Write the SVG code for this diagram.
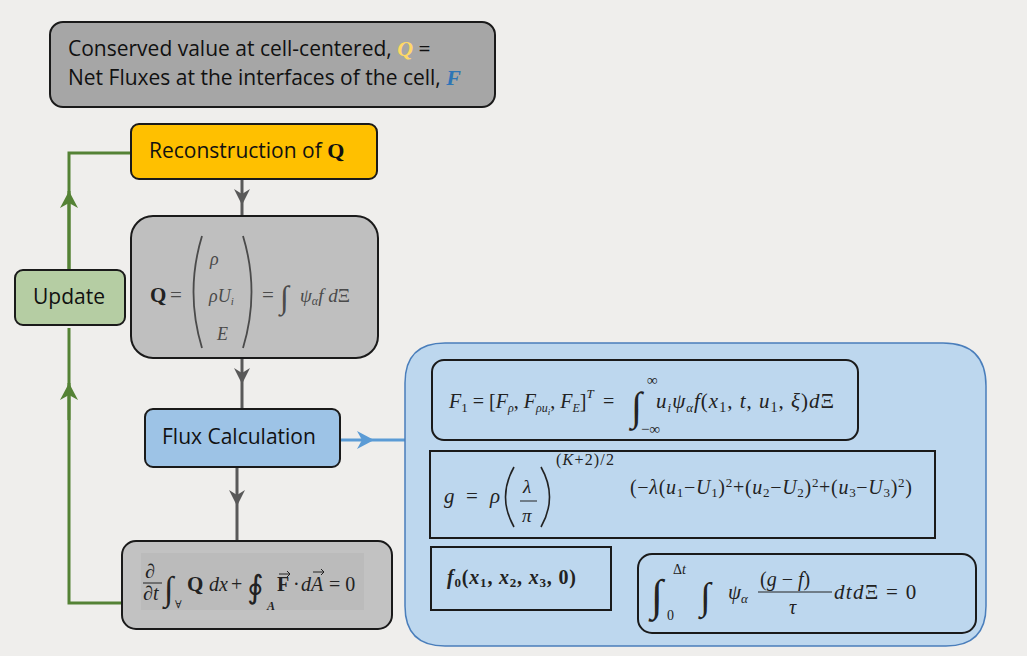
<svg xmlns="http://www.w3.org/2000/svg" width="1027" height="656" viewBox="0 0 1027 656">
<defs>
<style>
.box{stroke:#1a1a1a;stroke-width:2}
.lbl{font-family:"Open Sans","Noto Sans","DejaVu Sans",sans-serif;font-size:21px;fill:#111}
.m{font-family:"Liberation Serif","DejaVu Serif",serif;font-style:italic;fill:#222}
.mr{font-family:"Liberation Serif","DejaVu Serif",serif;fill:#222}
.gq{fill:#4a4a4a}
.gray{stroke:#595959;stroke-width:3;fill:none}
.green{stroke:#548235;stroke-width:3;fill:none}
.blue{stroke:#5B9BD5;stroke-width:3;fill:none}
</style>
<marker id="ag" markerUnits="userSpaceOnUse" markerWidth="20" markerHeight="20" refX="0" refY="0" viewBox="-18 -10 20 20" orient="auto">
<path d="M0,0 L-16,-8 L-11,0 L-16,8 Z" fill="#595959"/>
</marker>
<marker id="agr" markerUnits="userSpaceOnUse" markerWidth="22" markerHeight="22" refX="0" refY="0" viewBox="-20 -11 22 22" orient="auto">
<path d="M0,0 L-17,-9 L-12,0 L-17,9 Z" fill="#548235"/>
</marker>
<marker id="ab" markerUnits="userSpaceOnUse" markerWidth="22" markerHeight="22" refX="0" refY="0" viewBox="-20 -11 22 22" orient="auto">
<path d="M0,0 L-17,-9 L-12,0 L-17,9 Z" fill="#5B9BD5"/>
</marker>
</defs>
<rect x="0" y="0" width="1027" height="656" fill="#EFEEEC"/>

<g id="connectors">
<path class="gray" d="M242,179 L242,205 L242,216" marker-mid="url(#ag)"/>
<path class="gray" d="M242,358 L242,384 L242,409" marker-mid="url(#ag)"/>
<path class="gray" d="M237,467 L237,506 L237,541" marker-mid="url(#ag)"/>
<path class="blue" d="M340,440 L374,440 L405,440" marker-mid="url(#ab)"/>
<path class="green" d="M131,153 L69,153 L69,270"/>
<path class="green" d="M69,270 L69,191" marker-end="url(#agr)"/>
<path class="green" d="M122,603 L69,603 L69,328"/>
<path class="green" d="M69,420 L69,383" marker-end="url(#agr)"/>
</g>

<g id="node-conserved">
<rect class="box" x="50" y="22" width="445" height="85" rx="13" fill="#A6A6A6"/>
<text class="lbl" x="68" y="56">Conserved value at cell-centered, <tspan style="font-family:'Liberation Serif',serif;font-style:italic;font-weight:bold;fill:#FFD966;font-size:22px">Q</tspan> =</text>
<text class="lbl" x="68" y="85">Net Fluxes at the interfaces of the cell, <tspan style="font-family:'Liberation Serif',serif;font-style:italic;font-weight:bold;fill:#2E75B6;font-size:22px">F</tspan></text>
</g>

<g id="node-reconstruction">
<rect class="box" x="131" y="124" width="246" height="55" rx="8" fill="#FFC000"/>
<text class="lbl" x="149" y="158">Reconstruction of <tspan style="font-family:'Liberation Serif',serif;font-weight:bold;fill:#111;font-size:22px">Q</tspan></text>
</g>

<g id="node-q">
<rect class="box" x="131" y="216" width="247" height="142" rx="22" fill="#BFBFBF"/>
<text class="mr" x="150" y="302" font-size="21" font-weight="bold">Q</text>
<text class="mr gq" x="170" y="302" font-size="21">=</text>
<path d="M202,236 Q185,292 202,348" fill="none" stroke="#4a4a4a" stroke-width="1.8"/>
<path d="M243,236 Q260,292 243,348" fill="none" stroke="#4a4a4a" stroke-width="1.8"/>
<text class="m gq" x="210" y="265" font-size="18">ρ</text>
<text class="m gq" x="209" y="302" font-size="18">ρU<tspan font-size="11" dy="3">i</tspan></text>
<text class="m gq" x="217" y="340" font-size="18">E</text>
<text class="mr gq" x="262" y="302" font-size="21">=</text>
<text class="mr gq" x="280" y="308" font-size="32">∫</text>
<text class="m gq" x="300" y="302" font-size="19">ψ<tspan font-size="12" dy="3">α</tspan><tspan dy="-3">f d</tspan><tspan font-style="normal">Ξ</tspan></text>
</g>

<g id="node-flux">
<rect class="box" x="145" y="409" width="195" height="58" rx="8" fill="#9DC3E6"/>
<text class="lbl" x="162" y="444">Flux Calculation</text>
</g>

<g id="node-update">
<rect class="box" x="15" y="270" width="110" height="55" rx="8" fill="#B5CDA3"/>
<text class="lbl" x="69" y="304" text-anchor="middle">Update</text>
</g>

<g id="node-conservation">
<rect class="box" x="122" y="541" width="270" height="88" rx="14" fill="#C2C2C2"/>
<rect x="141" y="553" width="223" height="57" fill="#BBBBBB"/>
<text class="mr" x="145" y="578" font-size="20">∂</text>
<line x1="143" y1="583" x2="162" y2="583" stroke="#222" stroke-width="1"/>
<text class="mr" x="143" y="600" font-size="20">∂<tspan font-style="italic">t</tspan></text>
<text class="mr" x="164" y="600" font-size="34">∫</text>
<text class="mr" x="175" y="608" font-size="11">∀</text>
<text class="mr" x="187" y="591" font-size="21" font-weight="bold">Q</text>
<text class="m" x="209" y="591" font-size="20">dx</text>
<text class="mr" x="231" y="591" font-size="20">+</text>
<text class="mr" x="247" y="598" font-size="32">∮</text>
<text class="m" x="267" y="610" font-size="12" font-weight="bold">A</text>
<text class="mr" x="277" y="591" font-size="20" font-weight="bold">F</text>
<path d="M279,574 L290,574 M287,571 L290,574 L287,577" stroke="#222" stroke-width="1" fill="none"/>
<text class="mr" x="293" y="591" font-size="20">·</text>
<text class="m" x="301" y="591" font-size="20">dA</text>
<path d="M313,572 L324,572 M321,569 L324,572 L321,575" stroke="#222" stroke-width="1" fill="none"/>
<text class="mr" x="329" y="591" font-size="20">= 0</text>
</g>

<g id="node-panel">
<path d="M445,343 L943,343 Q986,343 986,386 L986,606 Q986,646 946,646 L445,646 Q405,646 405,606 L405,383 Q405,343 445,343 Z" fill="#BDD7EE" stroke="#4A7EBB" stroke-width="1.5"/>
</g>

<g id="node-f1">
<rect class="box" x="432" y="360" width="426" height="80" rx="12" fill="#BDD7EE"/>
<text class="m" x="449" y="408" font-size="20">F<tspan font-style="normal" font-size="13" dy="4">1</tspan><tspan dy="-4" font-style="normal"> = [</tspan>F<tspan font-size="12" dy="4">ρ</tspan><tspan dy="-4" font-style="normal">, </tspan>F<tspan font-size="12" dy="4">ρu</tspan><tspan font-size="9" dy="3">i</tspan><tspan dy="-7" font-style="normal">, </tspan>F<tspan font-size="12" dy="4">E</tspan><tspan dy="-4" font-style="normal">]</tspan><tspan font-size="13" dy="-10">T</tspan></text>
<text class="mr" x="603" y="408" font-size="20">=</text>
<text class="mr" x="631" y="420" font-size="40">∫</text>
<text class="mr" x="647" y="385" font-size="15">∞</text>
<text class="mr" x="641" y="434" font-size="15">−∞</text>
<text class="m" x="656" y="408" font-size="21" letter-spacing="1">u<tspan font-size="13" dy="4">i</tspan><tspan dy="-4">ψ</tspan><tspan font-size="13" dy="4">α</tspan><tspan dy="-4">f</tspan><tspan font-style="normal">(</tspan>x<tspan font-style="normal" font-size="14" dy="4">1</tspan><tspan dy="-4" font-style="normal">, </tspan>t<tspan font-style="normal">, </tspan>u<tspan font-style="normal" font-size="14" dy="4">1</tspan><tspan dy="-4" font-style="normal">, </tspan>ξ<tspan font-style="normal">)</tspan>d<tspan font-style="normal">Ξ</tspan></text>
</g>

<g id="node-g">
<rect class="box" x="430" y="451" width="505" height="87" fill="#BDD7EE"/>
<text class="m" x="444" y="503" font-size="21">g</text>
<text class="mr" x="466" y="503" font-size="21">=</text>
<text class="m" x="490" y="503" font-size="21">ρ</text>
<path d="M514,467 Q497,497 514,527" fill="none" stroke="#222" stroke-width="1.6"/>
<path d="M541,467 Q558,497 541,527" fill="none" stroke="#222" stroke-width="1.6"/>
<text class="m" x="523" y="493" font-size="19">λ</text>
<line x1="520" y1="501" x2="537" y2="501" stroke="#222" stroke-width="1"/>
<text class="m" x="522" y="522" font-size="19">π</text>
<text class="mr" x="556" y="465" font-size="16" letter-spacing="1.2">(<tspan font-style="italic">K</tspan>+2)/2</text>
<text class="mr" x="630" y="494" font-size="20" letter-spacing="0.7">(−<tspan font-style="italic">λ</tspan>(<tspan font-style="italic">u</tspan><tspan font-size="13" dy="3">1</tspan><tspan dy="-3">−</tspan><tspan font-style="italic">U</tspan><tspan font-size="13" dy="3">1</tspan><tspan dy="-3">)</tspan><tspan font-size="13" dy="-7">2</tspan><tspan dy="7">+(</tspan><tspan font-style="italic">u</tspan><tspan font-size="13" dy="3">2</tspan><tspan dy="-3">−</tspan><tspan font-style="italic">U</tspan><tspan font-size="13" dy="3">2</tspan><tspan dy="-3">)</tspan><tspan font-size="13" dy="-7">2</tspan><tspan dy="7">+(</tspan><tspan font-style="italic">u</tspan><tspan font-size="13" dy="3">3</tspan><tspan dy="-3">−</tspan><tspan font-style="italic">U</tspan><tspan font-size="13" dy="3">3</tspan><tspan dy="-3">)</tspan><tspan font-size="13" dy="-7">2</tspan><tspan dy="7">)</tspan></text>
</g>

<g id="node-f0">
<rect class="box" x="431" y="547" width="180" height="63" fill="#BDD7EE"/>
<text class="m" x="447" y="584" font-size="20" font-weight="bold" letter-spacing="0.8">f<tspan font-style="normal" font-size="13" dy="3">0</tspan><tspan font-style="normal" dy="-3">(</tspan>x<tspan font-style="normal" font-size="13" dy="3">1</tspan><tspan font-style="normal" dy="-3">, </tspan>x<tspan font-style="normal" font-size="13" dy="3">2</tspan><tspan font-style="normal" dy="-3">, </tspan>x<tspan font-style="normal" font-size="13" dy="3">3</tspan><tspan font-style="normal" dy="-3">, 0)</tspan></text>
</g>

<g id="node-relax">
<rect class="box" x="638" y="554" width="338" height="79" rx="14" fill="#BDD7EE"/>
<text class="mr" x="651" y="610" font-size="44">∫</text>
<text class="mr" x="673" y="574" font-size="14">Δ<tspan font-style="italic">t</tspan></text>
<text class="mr" x="667" y="620" font-size="14">0</text>
<text class="mr" x="700" y="609" font-size="38">∫</text>
<text class="m" x="728" y="599" font-size="21">ψ<tspan font-size="13" dy="4">α</tspan></text>
<text class="mr" x="760" y="586" font-size="20">(<tspan font-style="italic">g</tspan> − <tspan font-style="italic">f</tspan>)</text>
<line x1="758" y1="592" x2="832" y2="592" stroke="#222" stroke-width="1"/>
<text class="m" x="789" y="614" font-size="20">τ</text>
<text class="m" x="834" y="599" font-size="21" letter-spacing="1.3">dtd<tspan font-style="normal">Ξ = 0</tspan></text>
</g>
</svg>
